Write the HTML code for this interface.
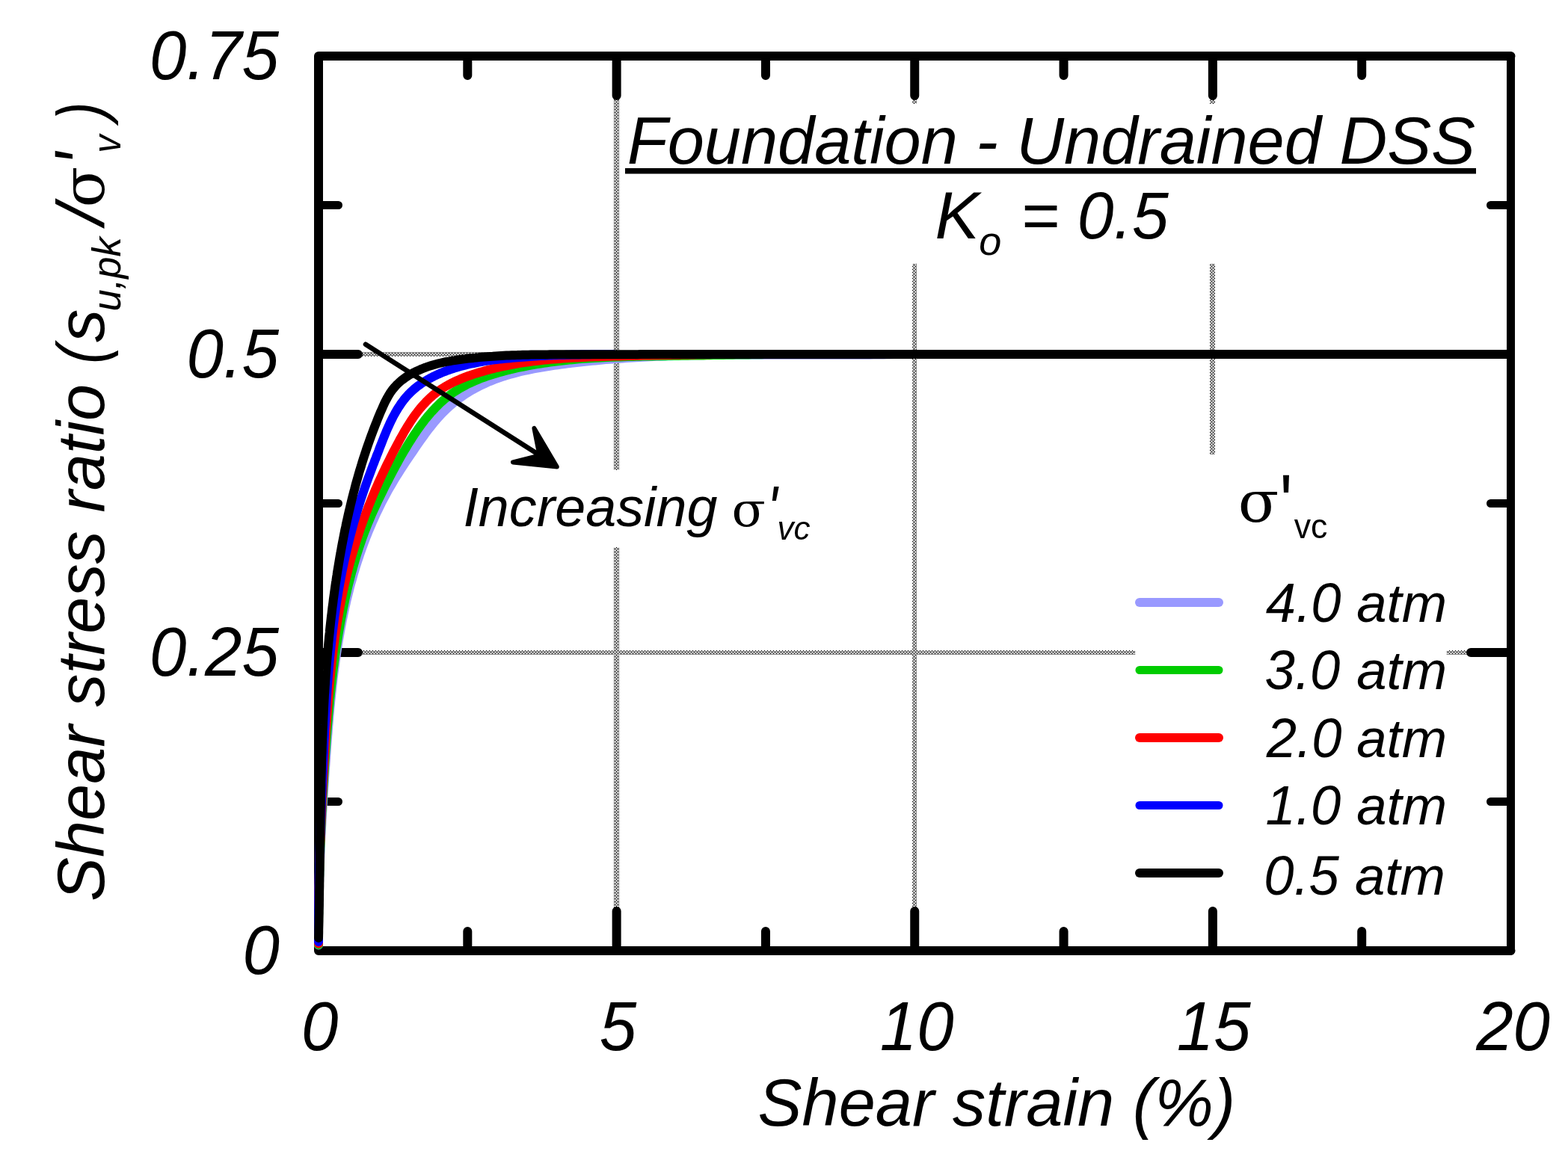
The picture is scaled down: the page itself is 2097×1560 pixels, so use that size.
<!DOCTYPE html>
<html lang="en"><head><meta charset="utf-8"><title>Foundation - Undrained DSS</title>
<style>
html,body{margin:0;padding:0;background:#fff;}
body{width:2097px;height:1560px;}
svg{display:block;}
text{fill:#000;font-kerning:none;white-space:pre;}
.i{font-family:"Liberation Sans", sans-serif;font-style:italic;}
.r{font-family:"Liberation Sans", sans-serif;font-style:normal;}
.g{font-family:"DejaVu Serif", "Liberation Serif", serif;font-style:normal;}
</style></head><body>
<svg width="2097" height="1560" viewBox="0 0 2097 1560" role="img" aria-label="Shear stress ratio versus shear strain">
<defs><pattern id="hatch" width="4" height="4" patternUnits="userSpaceOnUse" shape-rendering="crispEdges"><path d="M0 0h1v1h-1z M1 1h1v1h-1z M3 1h1v1h-1z M2 2h1v1h-1z M1 3h1v1h-1z M3 3h1v1h-1z" fill="#000"/></pattern></defs>
<rect x="0" y="0" width="2097" height="1560" fill="#fff"/>
<g id="grid">
<rect x="821" y="133" width="7" height="496" fill="url(#hatch)" shape-rendering="crispEdges"/>
<rect x="821" y="732" width="7" height="482" fill="url(#hatch)" shape-rendering="crispEdges"/>
<rect x="1220" y="133" width="6" height="6" fill="url(#hatch)" shape-rendering="crispEdges"/>
<rect x="1220" y="353" width="6" height="861" fill="url(#hatch)" shape-rendering="crispEdges"/>
<rect x="1618" y="133" width="7" height="6" fill="url(#hatch)" shape-rendering="crispEdges"/>
<rect x="1618" y="353" width="7" height="255" fill="url(#hatch)" shape-rendering="crispEdges"/>
<rect x="484" y="471" width="1478" height="6" fill="url(#hatch)" shape-rendering="crispEdges"/>
<rect x="484" y="870" width="1034" height="6" fill="url(#hatch)" shape-rendering="crispEdges"/>
<rect x="1935" y="870" width="27" height="6" fill="url(#hatch)" shape-rendering="crispEdges"/>
</g>
<g id="axes" stroke="#000" stroke-width="12" stroke-linecap="round" stroke-linejoin="round" fill="none">
<path d="M2020.5 75 H426 V1272 H2020.5"/>
<path d="M2020.5 75 V1272" stroke-width="11"/>
<path d="M824.625 75 v53 M824.625 1272 v-53"/>
<path d="M1223.25 75 v53 M1223.25 1272 v-53"/>
<path d="M1621.88 75 v53 M1621.88 1272 v-53"/>
<path d="M625.312 75 v26 M625.312 1272 v-26"/>
<path d="M1023.94 75 v26 M1023.94 1272 v-26"/>
<path d="M1422.56 75 v26 M1422.56 1272 v-26"/>
<path d="M1821.19 75 v26 M1821.19 1272 v-26"/>
<path d="M426 873 h53 M2019.5 873 h-52.5"/>
<path d="M426 474 h53 M2019.5 474 h-52.5"/>
<path stroke-width="11" d="M426 1072.5 h26.5 M2019.5 1072.5 h-26"/>
<path stroke-width="11" d="M426 673.5 h26.5 M2019.5 673.5 h-26"/>
<path stroke-width="11" d="M426 274.5 h26.5 M2019.5 274.5 h-26"/>
</g>
<g id="curves" fill="none" stroke-width="12" stroke-linecap="round" stroke-linejoin="round">
<path id="c-purple" stroke="#9999ff" d="M426.0 1264.5 L426.0 1259.9 L426.0 1255.2 L426.0 1250.6 L426.0 1246.0 L426.0 1241.4 L426.0 1236.8 L426.0 1232.2 L426.0 1227.6 L426.1 1222.9 L426.2 1218.3 L426.2 1213.7 L426.3 1209.1 L426.4 1204.6 L426.5 1200.0 L426.6 1195.4 L426.7 1190.8 L426.8 1186.2 L427.0 1181.6 L427.1 1177.0 L427.2 1172.4 L427.4 1167.9 L427.6 1163.3 L427.7 1158.7 L427.9 1154.1 L428.1 1149.6 L428.3 1145.0 L428.5 1140.4 L428.7 1135.8 L428.9 1131.3 L429.1 1126.7 L429.3 1122.1 L429.5 1117.6 L429.8 1113.0 L430.0 1108.4 L430.3 1103.9 L430.5 1099.3 L430.8 1094.7 L431.0 1090.1 L431.3 1085.6 L431.6 1081.0 L431.8 1076.4 L432.1 1071.9 L432.4 1067.3 L432.7 1062.7 L433.0 1058.2 L433.3 1053.6 L433.6 1049.0 L433.9 1044.4 L434.2 1039.9 L434.5 1035.3 L434.8 1030.7 L435.2 1026.1 L435.5 1021.5 L435.8 1017.0 L436.1 1012.4 L436.5 1007.8 L436.8 1003.2 L437.1 998.6 L437.5 994.0 L437.8 989.4 L438.2 984.8 L438.6 980.2 L438.9 975.7 L439.3 971.1 L439.7 966.5 L440.1 961.9 L440.5 957.3 L440.9 952.7 L441.3 948.1 L441.8 943.5 L442.2 938.9 L442.7 934.4 L443.2 929.8 L443.7 925.2 L444.2 920.6 L444.7 916.0 L445.2 911.5 L445.7 906.9 L446.3 902.3 L446.9 897.7 L447.5 893.2 L448.1 888.6 L448.7 884.1 L449.4 879.5 L450.0 875.0 L450.7 870.4 L451.4 865.9 L452.1 861.3 L452.9 856.8 L453.7 852.3 L454.5 847.8 L455.3 843.2 L456.1 838.7 L457.0 834.2 L457.8 829.7 L458.8 825.2 L459.7 820.7 L460.7 816.2 L461.6 811.8 L462.7 807.3 L463.7 802.8 L464.8 798.4 L465.9 793.9 L467.0 789.5 L468.1 785.1 L469.3 780.6 L470.6 776.2 L471.8 771.8 L473.1 767.4 L474.4 763.0 L475.7 758.6 L477.1 754.2 L478.5 749.9 L480.0 745.5 L481.4 741.2 L483.0 736.8 L484.5 732.5 L486.1 728.2 L487.7 723.9 L489.3 719.6 L491.0 715.4 L492.7 711.1 L494.5 706.9 L496.3 702.6 L498.1 698.4 L500.0 694.2 L501.9 690.1 L503.8 685.9 L505.8 681.8 L507.8 677.6 L509.8 673.5 L511.9 669.5 L514.1 665.4 L516.2 661.4 L518.4 657.3 L520.7 653.3 L523.0 649.4 L525.3 645.4 L527.6 641.5 L530.0 637.6 L532.5 633.7 L534.9 629.8 L537.4 625.9 L539.9 622.1 L542.5 618.2 L545.0 614.4 L547.6 610.6 L550.2 606.8 L552.8 603.0 L555.4 599.2 L558.0 595.4 L560.6 591.6 L563.3 587.8 L566.0 584.1 L568.7 580.3 L571.4 576.6 L574.2 573.0 L577.1 569.4 L580.0 565.8 L582.9 562.3 L585.9 558.8 L589.1 555.4 L592.2 552.1 L595.5 548.9 L598.9 545.7 L602.3 542.6 L605.8 539.6 L609.4 536.7 L613.0 533.9 L616.7 531.2 L620.5 528.6 L624.3 526.1 L628.2 523.7 L632.1 521.4 L636.1 519.2 L640.1 517.1 L644.2 515.1 L648.3 513.2 L652.4 511.3 L656.6 509.6 L660.8 507.9 L665.1 506.4 L669.4 504.9 L673.7 503.4 L678.0 502.1 L682.4 500.8 L686.8 499.6 L691.3 498.4 L695.7 497.3 L700.2 496.2 L704.7 495.3 L709.2 494.3 L713.7 493.4 L718.3 492.6 L722.8 491.8 L727.4 491.0 L731.9 490.3 L736.5 489.5 L741.1 488.9 L745.7 488.2 L750.3 487.6 L754.9 487.0 L759.5 486.4 L764.1 485.9 L768.7 485.3 L773.3 484.8 L777.8 484.3 L782.4 483.8 L787.0 483.3 L791.6 482.8 L796.2 482.4 L800.8 482.0 L805.4 481.5 L810.0 481.1 L814.6 480.8 L819.2 480.4 L823.7 480.0 L828.3 479.7 L832.9 479.4 L837.5 479.1 L842.1 478.8 L846.7 478.5 L851.3 478.2 L855.8 478.0 L860.4 477.7 L865.0 477.5 L869.6 477.3 L874.2 477.0 L878.8 476.8 L883.3 476.7 L887.9 476.5 L892.5 476.3 L897.1 476.2 L901.7 476.0 L906.3 475.9 L910.8 475.7 L915.4 475.6 L920.0 475.5 L924.6 475.4 L929.2 475.3 L933.8 475.2 L938.3 475.2 L942.9 475.1 L947.5 475.0 L952.1 475.0 L956.7 474.9 L961.3 474.9 L965.8 474.8 L970.4 474.8 L975.0 474.8 L979.6 474.7 L984.2 474.7 L988.8 474.7 L993.3 474.7 L997.9 474.7 L1002.5 474.7 L1007.1 474.7 L1011.7 474.7 L1016.3 474.7 L1020.8 474.7 L1025.4 474.7 L1030.0 474.7 L1034.6 474.7 L1039.2 474.7 L1043.8 474.7 L1048.4 474.7 L1052.9 474.7 L1057.5 474.7 L1062.1 474.7 L1066.7 474.7 L1071.3 474.7 L1075.9 474.7 L1080.5 474.7 L1085.1 474.7 L1089.7 474.7 L1094.2 474.7 L1098.8 474.7 L1103.4 474.7 L1108.0 474.7 L1112.6 474.7 L1117.2 474.7 L1121.8 474.7 L1126.4 474.7 L1131.0 474.7 L1135.6 474.7 L1140.2 474.7 L1144.8 474.7 L1149.4 474.7 L1154.0 474.7 L1158.6 474.7 L1163.2 474.7 L1167.8 474.6 L1172.4 474.6 L1177.0 474.5 L1181.6 474.4 L1186.2 474.3 L1190.8 474.2 L1195.4 474.1 L1200.0 474.0"/>
<path id="c-green" stroke="#00cc00" d="M426.0 1264.0 L426.0 1259.7 L426.0 1255.3 L426.0 1251.0 L426.0 1246.7 L426.0 1242.4 L426.0 1238.1 L426.0 1233.8 L426.1 1229.5 L426.1 1225.2 L426.2 1220.9 L426.2 1216.6 L426.3 1212.3 L426.3 1208.0 L426.4 1203.7 L426.5 1199.4 L426.6 1195.1 L426.6 1190.8 L426.7 1186.5 L426.8 1182.2 L426.9 1177.9 L427.1 1173.6 L427.2 1169.4 L427.3 1165.1 L427.4 1160.8 L427.6 1156.5 L427.7 1152.2 L427.9 1148.0 L428.0 1143.7 L428.2 1139.4 L428.3 1135.1 L428.5 1130.9 L428.7 1126.6 L428.8 1122.3 L429.0 1118.1 L429.2 1113.8 L429.4 1109.5 L429.6 1105.2 L429.8 1101.0 L430.0 1096.7 L430.2 1092.4 L430.4 1088.2 L430.7 1083.9 L430.9 1079.6 L431.1 1075.3 L431.4 1071.1 L431.6 1066.8 L431.8 1062.5 L432.1 1058.2 L432.3 1054.0 L432.6 1049.7 L432.9 1045.4 L433.1 1041.1 L433.4 1036.9 L433.7 1032.6 L433.9 1028.3 L434.2 1024.0 L434.5 1019.7 L434.8 1015.4 L435.1 1011.2 L435.4 1006.9 L435.7 1002.6 L436.0 998.3 L436.3 994.0 L436.6 989.7 L436.9 985.4 L437.3 981.1 L437.6 976.8 L437.9 972.5 L438.3 968.3 L438.7 964.0 L439.0 959.7 L439.4 955.4 L439.8 951.1 L440.2 946.8 L440.6 942.5 L441.0 938.2 L441.4 933.9 L441.8 929.6 L442.3 925.4 L442.7 921.1 L443.2 916.8 L443.7 912.5 L444.2 908.2 L444.7 904.0 L445.2 899.7 L445.7 895.4 L446.3 891.1 L446.8 886.9 L447.4 882.6 L448.0 878.4 L448.6 874.1 L449.2 869.8 L449.8 865.6 L450.5 861.3 L451.1 857.1 L451.8 852.8 L452.5 848.6 L453.2 844.4 L454.0 840.1 L454.7 835.9 L455.5 831.7 L456.3 827.5 L457.1 823.3 L457.9 819.1 L458.7 814.9 L459.6 810.7 L460.5 806.5 L461.4 802.3 L462.3 798.1 L463.3 793.9 L464.2 789.7 L465.2 785.6 L466.2 781.4 L467.3 777.3 L468.3 773.1 L469.4 769.0 L470.5 764.8 L471.7 760.7 L472.8 756.6 L474.0 752.5 L475.2 748.4 L476.4 744.3 L477.7 740.2 L479.0 736.1 L480.3 732.1 L481.7 728.0 L483.1 724.0 L484.5 719.9 L486.0 715.9 L487.4 711.9 L489.0 707.9 L490.5 704.0 L492.1 700.0 L493.8 696.1 L495.4 692.2 L497.1 688.2 L498.8 684.3 L500.6 680.4 L502.4 676.6 L504.2 672.7 L506.0 668.8 L507.9 665.0 L509.8 661.1 L511.7 657.3 L513.6 653.4 L515.5 649.6 L517.5 645.7 L519.5 641.9 L521.4 638.1 L523.4 634.2 L525.4 630.4 L527.5 626.6 L529.5 622.8 L531.6 619.0 L533.7 615.2 L535.8 611.4 L538.0 607.6 L540.2 603.8 L542.4 600.1 L544.6 596.4 L546.9 592.7 L549.2 589.0 L551.6 585.3 L553.9 581.7 L556.4 578.1 L558.8 574.5 L561.3 571.0 L563.9 567.5 L566.5 564.1 L569.1 560.7 L571.8 557.4 L574.6 554.1 L577.4 550.9 L580.3 547.8 L583.2 544.7 L586.2 541.7 L589.2 538.8 L592.4 536.0 L595.5 533.3 L598.8 530.7 L602.1 528.1 L605.5 525.7 L609.0 523.3 L612.6 521.1 L616.2 518.9 L619.9 516.9 L623.6 514.9 L627.4 513.0 L631.3 511.2 L635.2 509.5 L639.1 507.9 L643.1 506.3 L647.1 504.8 L651.2 503.3 L655.3 502.0 L659.4 500.7 L663.6 499.4 L667.7 498.2 L671.9 497.1 L676.1 496.0 L680.4 494.9 L684.6 493.9 L688.8 492.9 L693.0 492.0 L697.3 491.1 L701.5 490.3 L705.8 489.4 L710.0 488.6 L714.3 487.9 L718.5 487.2 L722.8 486.5 L727.0 485.8 L731.3 485.2 L735.5 484.6 L739.8 484.0 L744.1 483.5 L748.3 483.0 L752.6 482.5 L756.9 482.0 L761.1 481.6 L765.4 481.2 L769.7 480.8 L774.0 480.4 L778.2 480.1 L782.5 479.8 L786.8 479.5 L791.1 479.2 L795.4 478.9 L799.7 478.7 L803.9 478.4 L808.2 478.2 L812.5 478.0 L816.8 477.8 L821.1 477.7 L825.4 477.5 L829.7 477.4 L834.0 477.2 L838.3 477.1 L842.6 477.0 L846.9 476.9 L851.1 476.8 L855.4 476.7 L859.7 476.6 L864.0 476.5 L868.3 476.5 L872.6 476.4 L876.9 476.3 L881.2 476.3 L885.5 476.2 L889.8 476.2 L894.1 476.1 L898.4 476.0 L902.7 476.0 L906.9 475.9 L911.2 475.8 L915.5 475.8 L919.8 475.7 L924.1 475.6 L928.4 475.6 L932.7 475.5 L937.0 475.4 L941.2 475.4 L945.5 475.3 L949.8 475.2 L954.1 475.1 L958.4 475.1 L962.7 475.0 L967.0 474.9 L971.2 474.8 L975.5 474.8 L979.8 474.7 L984.1 474.6 L988.4 474.6 L992.7 474.5 L996.9 474.5 L1001.2 474.4 L1005.5 474.3 L1009.8 474.3 L1014.1 474.2 L1018.4 474.2 L1022.7 474.1 L1027.0 474.1 L1031.2 474.1 L1035.5 474.0 L1039.8 474.0 L1044.1 474.0 L1048.4 474.0 L1052.7 474.0 L1057.0 474.0 L1061.3 474.0 L1065.6 474.0 L1069.9 474.0 L1074.2 474.0 L1078.5 474.0 L1082.8 474.0 L1087.1 474.0 L1091.4 474.0 L1095.7 474.0 L1100.0 474.0"/>
<path id="c-red" stroke="#ff0000" d="M426.0 1262.5 L426.0 1258.5 L426.0 1254.4 L426.0 1250.4 L426.0 1246.4 L426.0 1242.4 L426.0 1238.3 L426.0 1234.3 L426.0 1230.3 L426.0 1226.3 L426.0 1222.3 L426.0 1218.3 L426.0 1214.3 L426.1 1210.3 L426.1 1206.3 L426.2 1202.3 L426.3 1198.3 L426.3 1194.3 L426.4 1190.3 L426.5 1186.3 L426.6 1182.3 L426.7 1178.3 L426.8 1174.3 L426.9 1170.3 L427.0 1166.3 L427.1 1162.3 L427.2 1158.3 L427.3 1154.4 L427.4 1150.4 L427.6 1146.4 L427.7 1142.4 L427.9 1138.4 L428.0 1134.4 L428.1 1130.5 L428.3 1126.5 L428.5 1122.5 L428.6 1118.5 L428.8 1114.5 L428.9 1110.6 L429.1 1106.6 L429.3 1102.6 L429.5 1098.6 L429.6 1094.6 L429.8 1090.6 L430.0 1086.7 L430.2 1082.7 L430.4 1078.7 L430.6 1074.7 L430.8 1070.7 L431.0 1066.8 L431.2 1062.8 L431.4 1058.8 L431.6 1054.8 L431.8 1050.8 L432.0 1046.8 L432.3 1042.8 L432.5 1038.9 L432.7 1034.9 L432.9 1030.9 L433.1 1026.9 L433.4 1022.9 L433.6 1018.9 L433.8 1014.9 L434.0 1010.9 L434.3 1006.9 L434.5 1002.9 L434.7 998.9 L435.0 994.9 L435.2 990.9 L435.4 986.9 L435.7 982.9 L435.9 978.9 L436.2 974.9 L436.5 970.9 L436.7 966.9 L437.0 962.9 L437.3 958.9 L437.6 954.9 L437.9 950.9 L438.2 946.9 L438.5 942.9 L438.8 938.9 L439.1 934.9 L439.4 930.9 L439.8 926.9 L440.1 922.9 L440.4 918.9 L440.8 914.9 L441.2 910.9 L441.6 906.9 L442.0 902.9 L442.4 898.9 L442.8 894.9 L443.2 890.9 L443.6 887.0 L444.1 883.0 L444.6 879.0 L445.0 875.0 L445.5 871.0 L446.0 867.1 L446.5 863.1 L447.1 859.1 L447.6 855.2 L448.2 851.2 L448.7 847.3 L449.3 843.3 L449.9 839.3 L450.6 835.4 L451.2 831.4 L451.9 827.5 L452.5 823.6 L453.2 819.6 L453.9 815.7 L454.6 811.8 L455.4 807.8 L456.1 803.9 L456.9 800.0 L457.7 796.1 L458.5 792.2 L459.4 788.3 L460.2 784.4 L461.1 780.5 L462.0 776.6 L462.9 772.7 L463.9 768.9 L464.8 765.0 L465.8 761.1 L466.8 757.3 L467.8 753.4 L468.9 749.6 L469.9 745.7 L471.0 741.9 L472.2 738.0 L473.3 734.2 L474.4 730.4 L475.6 726.6 L476.8 722.8 L478.0 719.0 L479.3 715.2 L480.5 711.4 L481.8 707.6 L483.1 703.8 L484.4 700.1 L485.8 696.3 L487.1 692.6 L488.5 688.8 L489.9 685.1 L491.4 681.4 L492.8 677.6 L494.3 673.9 L495.8 670.2 L497.3 666.5 L498.8 662.8 L500.3 659.2 L501.9 655.5 L503.5 651.8 L505.1 648.2 L506.7 644.5 L508.4 640.9 L510.1 637.3 L511.7 633.6 L513.5 630.0 L515.2 626.4 L516.9 622.8 L518.7 619.2 L520.5 615.6 L522.3 612.0 L524.1 608.4 L525.9 604.8 L527.8 601.2 L529.7 597.7 L531.6 594.1 L533.5 590.5 L535.4 586.9 L537.4 583.4 L539.4 579.8 L541.4 576.3 L543.5 572.9 L545.6 569.4 L547.8 566.0 L550.0 562.6 L552.2 559.3 L554.5 556.1 L556.9 552.8 L559.3 549.7 L561.8 546.6 L564.3 543.6 L566.9 540.7 L569.6 537.8 L572.4 535.0 L575.2 532.3 L578.1 529.7 L581.1 527.2 L584.2 524.8 L587.3 522.5 L590.6 520.3 L593.9 518.2 L597.3 516.2 L600.7 514.3 L604.3 512.4 L607.8 510.7 L611.5 509.0 L615.2 507.4 L618.9 505.9 L622.6 504.4 L626.4 503.0 L630.3 501.7 L634.1 500.4 L637.9 499.2 L641.8 498.0 L645.7 496.9 L649.6 495.8 L653.4 494.7 L657.3 493.7 L661.2 492.8 L665.1 491.8 L669.0 490.9 L673.0 490.1 L676.9 489.3 L680.8 488.5 L684.7 487.8 L688.7 487.0 L692.6 486.4 L696.6 485.7 L700.5 485.1 L704.5 484.5 L708.4 484.0 L712.4 483.4 L716.3 483.0 L720.3 482.5 L724.3 482.0 L728.3 481.6 L732.2 481.2 L736.2 480.8 L740.2 480.5 L744.2 480.2 L748.2 479.9 L752.2 479.6 L756.2 479.3 L760.2 479.0 L764.2 478.8 L768.2 478.6 L772.2 478.4 L776.2 478.2 L780.2 478.0 L784.2 477.8 L788.2 477.6 L792.2 477.5 L796.2 477.3 L800.2 477.2 L804.2 477.1 L808.2 476.9 L812.2 476.8 L816.2 476.7 L820.2 476.6 L824.2 476.5 L828.2 476.4 L832.2 476.3 L836.2 476.2 L840.1 476.1 L844.1 476.0 L848.1 475.9 L852.1 475.8 L856.1 475.7 L860.1 475.6 L864.1 475.5 L868.1 475.4 L872.1 475.3 L876.1 475.2 L880.0 475.2 L884.0 475.1 L888.0 475.0 L892.0 474.9 L896.0 474.9 L900.0 474.8 L904.0 474.7 L908.0 474.7 L912.0 474.6 L915.9 474.5 L919.9 474.5 L923.9 474.4 L927.9 474.4 L931.9 474.3 L935.9 474.3 L939.9 474.3 L943.9 474.2 L947.9 474.2 L951.9 474.1 L955.9 474.1 L959.9 474.1 L963.9 474.1 L967.9 474.0 L971.9 474.0 L975.9 474.0 L979.9 474.0 L983.9 474.0 L987.9 474.0 L992.0 474.0 L996.0 474.0 L1000.0 474.0"/>
<path id="c-blue" stroke="#0000ff" d="M426.0 1260.0 L426.0 1256.5 L426.0 1253.0 L426.0 1249.5 L426.0 1246.1 L426.0 1242.6 L426.0 1239.1 L426.0 1235.6 L426.0 1232.1 L426.0 1228.7 L426.0 1225.2 L426.0 1221.7 L426.0 1218.2 L426.1 1214.8 L426.1 1211.3 L426.2 1207.8 L426.2 1204.3 L426.2 1200.9 L426.3 1197.4 L426.3 1193.9 L426.4 1190.5 L426.5 1187.0 L426.5 1183.5 L426.6 1180.1 L426.6 1176.6 L426.7 1173.1 L426.8 1169.7 L426.9 1166.2 L427.0 1162.7 L427.0 1159.3 L427.1 1155.8 L427.2 1152.4 L427.3 1148.9 L427.4 1145.4 L427.5 1142.0 L427.6 1138.5 L427.7 1135.0 L427.8 1131.6 L427.9 1128.1 L428.0 1124.7 L428.1 1121.2 L428.3 1117.7 L428.4 1114.3 L428.5 1110.8 L428.6 1107.4 L428.7 1103.9 L428.9 1100.4 L429.0 1097.0 L429.1 1093.5 L429.3 1090.1 L429.4 1086.6 L429.5 1083.1 L429.7 1079.7 L429.8 1076.2 L430.0 1072.8 L430.1 1069.3 L430.2 1065.8 L430.4 1062.4 L430.5 1058.9 L430.7 1055.5 L430.8 1052.0 L431.0 1048.5 L431.1 1045.1 L431.3 1041.6 L431.4 1038.1 L431.6 1034.7 L431.7 1031.2 L431.9 1027.7 L432.1 1024.3 L432.2 1020.8 L432.4 1017.3 L432.5 1013.9 L432.7 1010.4 L432.9 1006.9 L433.0 1003.5 L433.2 1000.0 L433.4 996.5 L433.5 993.1 L433.7 989.6 L433.9 986.1 L434.0 982.7 L434.2 979.2 L434.4 975.7 L434.6 972.2 L434.8 968.8 L435.0 965.3 L435.2 961.8 L435.3 958.4 L435.5 954.9 L435.7 951.4 L436.0 947.9 L436.2 944.5 L436.4 941.0 L436.6 937.5 L436.8 934.1 L437.1 930.6 L437.3 927.1 L437.5 923.7 L437.8 920.2 L438.0 916.7 L438.3 913.3 L438.6 909.8 L438.8 906.3 L439.1 902.9 L439.4 899.4 L439.7 895.9 L440.0 892.5 L440.3 889.0 L440.6 885.6 L440.9 882.1 L441.2 878.6 L441.6 875.2 L441.9 871.7 L442.3 868.3 L442.6 864.8 L443.0 861.4 L443.4 857.9 L443.7 854.5 L444.1 851.0 L444.5 847.6 L444.9 844.1 L445.4 840.7 L445.8 837.2 L446.2 833.8 L446.7 830.4 L447.1 826.9 L447.6 823.5 L448.1 820.1 L448.6 816.6 L449.1 813.2 L449.6 809.8 L450.1 806.3 L450.6 802.9 L451.2 799.5 L451.8 796.1 L452.3 792.6 L452.9 789.2 L453.5 785.8 L454.1 782.4 L454.7 779.0 L455.4 775.6 L456.0 772.2 L456.7 768.8 L457.3 765.4 L458.0 762.0 L458.7 758.6 L459.4 755.2 L460.1 751.8 L460.9 748.4 L461.6 745.0 L462.4 741.6 L463.2 738.3 L464.0 734.9 L464.8 731.5 L465.6 728.1 L466.4 724.8 L467.3 721.4 L468.1 718.1 L469.0 714.7 L469.9 711.4 L470.8 708.0 L471.7 704.7 L472.6 701.3 L473.5 698.0 L474.5 694.7 L475.5 691.3 L476.4 688.0 L477.4 684.7 L478.4 681.4 L479.5 678.1 L480.5 674.8 L481.5 671.5 L482.6 668.2 L483.7 664.9 L484.8 661.6 L485.9 658.4 L487.0 655.1 L488.1 651.8 L489.3 648.6 L490.4 645.3 L491.6 642.1 L492.8 638.8 L494.0 635.6 L495.2 632.4 L496.4 629.1 L497.6 625.9 L498.8 622.6 L500.1 619.4 L501.3 616.1 L502.6 612.9 L503.8 609.6 L505.1 606.4 L506.4 603.1 L507.6 599.8 L508.9 596.5 L510.2 593.2 L511.5 589.9 L512.8 586.6 L514.1 583.3 L515.5 580.0 L516.8 576.8 L518.2 573.5 L519.7 570.3 L521.1 567.1 L522.6 563.9 L524.2 560.7 L525.7 557.6 L527.4 554.6 L529.1 551.5 L530.8 548.6 L532.6 545.6 L534.5 542.8 L536.4 539.9 L538.4 537.2 L540.4 534.5 L542.6 531.9 L544.8 529.4 L547.1 526.9 L549.5 524.5 L552.0 522.3 L554.5 520.0 L557.1 517.9 L559.8 515.8 L562.6 513.8 L565.4 511.9 L568.3 510.1 L571.2 508.3 L574.2 506.6 L577.2 505.0 L580.3 503.4 L583.5 501.9 L586.6 500.4 L589.8 499.0 L593.0 497.7 L596.3 496.5 L599.6 495.2 L602.9 494.1 L606.2 493.0 L609.5 491.9 L612.9 490.9 L616.3 490.0 L619.6 489.1 L623.0 488.3 L626.4 487.4 L629.8 486.7 L633.3 486.0 L636.7 485.3 L640.1 484.6 L643.6 484.0 L647.0 483.4 L650.5 482.9 L653.9 482.4 L657.4 481.9 L660.9 481.4 L664.3 481.0 L667.8 480.6 L671.3 480.2 L674.8 479.8 L678.2 479.5 L681.7 479.2 L685.2 478.8 L688.6 478.5 L692.1 478.2 L695.6 478.0 L699.0 477.7 L702.4 477.4 L705.9 477.2 L709.3 477.0 L712.8 476.7 L716.2 476.5 L719.6 476.3 L723.1 476.1 L726.5 476.0 L730.0 475.8 L733.4 475.6 L736.8 475.5 L740.2 475.3 L743.7 475.2 L747.1 475.1 L750.6 475.0 L754.0 474.9 L757.4 474.8 L760.9 474.7 L764.3 474.6 L767.8 474.5 L771.2 474.4 L774.7 474.4 L778.1 474.3 L781.6 474.2 L785.0 474.2 L788.5 474.2 L792.0 474.1 L795.5 474.1 L799.0 474.1 L802.4 474.0 L805.9 474.0 L809.4 474.0 L813.0 474.0 L816.5 474.0 L820.0 474.0"/>
<path id="c-black" stroke="#000000" d="M426.0 1255.0 L426.1 1251.4 L426.2 1247.7 L426.2 1244.1 L426.3 1240.4 L426.4 1236.8 L426.5 1233.1 L426.5 1229.5 L426.6 1225.8 L426.7 1222.2 L426.7 1218.5 L426.8 1214.9 L426.9 1211.2 L426.9 1207.6 L427.0 1203.9 L427.0 1200.3 L427.1 1196.6 L427.1 1193.0 L427.2 1189.3 L427.3 1185.7 L427.3 1182.0 L427.4 1178.4 L427.4 1174.7 L427.5 1171.0 L427.5 1167.4 L427.6 1163.7 L427.6 1160.1 L427.6 1156.4 L427.7 1152.8 L427.7 1149.1 L427.8 1145.4 L427.8 1141.8 L427.9 1138.1 L427.9 1134.5 L428.0 1130.8 L428.0 1127.1 L428.1 1123.5 L428.1 1119.8 L428.2 1116.2 L428.2 1112.5 L428.3 1108.8 L428.3 1105.2 L428.4 1101.5 L428.5 1097.8 L428.5 1094.2 L428.6 1090.5 L428.6 1086.9 L428.7 1083.2 L428.8 1079.5 L428.8 1075.9 L428.9 1072.2 L429.0 1068.6 L429.0 1064.9 L429.1 1061.2 L429.2 1057.6 L429.3 1053.9 L429.4 1050.2 L429.4 1046.6 L429.5 1042.9 L429.6 1039.3 L429.7 1035.6 L429.8 1031.9 L429.9 1028.3 L430.0 1024.6 L430.1 1021.0 L430.2 1017.3 L430.3 1013.6 L430.4 1010.0 L430.6 1006.3 L430.7 1002.7 L430.8 999.0 L430.9 995.3 L431.1 991.7 L431.2 988.0 L431.4 984.4 L431.5 980.7 L431.6 977.0 L431.8 973.4 L432.0 969.7 L432.1 966.1 L432.3 962.4 L432.5 958.8 L432.7 955.1 L432.8 951.5 L433.0 947.8 L433.2 944.2 L433.4 940.5 L433.6 936.8 L433.8 933.2 L434.0 929.5 L434.3 925.9 L434.5 922.2 L434.7 918.6 L435.0 914.9 L435.2 911.3 L435.5 907.7 L435.7 904.0 L436.0 900.4 L436.3 896.7 L436.5 893.1 L436.8 889.4 L437.1 885.8 L437.4 882.1 L437.7 878.5 L438.0 874.9 L438.3 871.2 L438.7 867.6 L439.0 863.9 L439.3 860.3 L439.7 856.7 L440.0 853.0 L440.4 849.4 L440.8 845.8 L441.1 842.1 L441.5 838.5 L441.9 834.9 L442.3 831.2 L442.7 827.6 L443.1 824.0 L443.6 820.4 L444.0 816.7 L444.4 813.1 L444.9 809.5 L445.4 805.9 L445.8 802.2 L446.3 798.6 L446.8 795.0 L447.3 791.4 L447.8 787.8 L448.3 784.2 L448.8 780.5 L449.4 776.9 L449.9 773.3 L450.5 769.7 L451.0 766.1 L451.6 762.5 L452.2 758.9 L452.8 755.3 L453.4 751.7 L454.0 748.1 L454.6 744.5 L455.3 740.9 L455.9 737.3 L456.6 733.7 L457.2 730.1 L457.9 726.5 L458.6 722.9 L459.3 719.3 L460.0 715.7 L460.7 712.1 L461.4 708.5 L462.2 705.0 L462.9 701.4 L463.7 697.8 L464.5 694.2 L465.3 690.7 L466.1 687.1 L466.9 683.5 L467.8 680.0 L468.6 676.4 L469.5 672.8 L470.3 669.3 L471.2 665.7 L472.1 662.2 L473.0 658.6 L474.0 655.1 L474.9 651.6 L475.8 648.0 L476.8 644.5 L477.8 641.0 L478.8 637.5 L479.8 633.9 L480.8 630.4 L481.9 626.9 L483.0 623.4 L484.0 619.9 L485.1 616.4 L486.2 612.9 L487.3 609.5 L488.5 606.0 L489.6 602.5 L490.8 599.0 L492.0 595.6 L493.2 592.1 L494.4 588.7 L495.7 585.2 L496.9 581.8 L498.2 578.4 L499.5 574.9 L500.8 571.5 L502.1 568.1 L503.5 564.7 L504.8 561.3 L506.2 557.9 L507.6 554.5 L509.0 551.2 L510.5 547.8 L512.0 544.4 L513.5 541.1 L515.0 537.8 L516.7 534.6 L518.4 531.4 L520.2 528.3 L522.1 525.2 L524.2 522.3 L526.4 519.5 L528.7 516.8 L531.2 514.2 L533.8 511.7 L536.6 509.3 L539.5 507.1 L542.5 504.9 L545.6 502.9 L548.7 501.0 L552.0 499.2 L555.3 497.5 L558.7 495.9 L562.1 494.4 L565.5 493.0 L569.0 491.6 L572.5 490.4 L576.0 489.3 L579.5 488.2 L583.0 487.2 L586.6 486.3 L590.1 485.5 L593.7 484.7 L597.3 483.9 L600.9 483.3 L604.5 482.6 L608.1 482.1 L611.7 481.5 L615.3 481.0 L618.9 480.5 L622.6 480.1 L626.2 479.6 L629.8 479.2 L633.5 478.9 L637.1 478.5 L640.7 478.1 L644.4 477.8 L648.0 477.5 L651.6 477.2 L655.3 476.9 L658.9 476.7 L662.6 476.4 L666.2 476.2 L669.9 476.0 L673.5 475.8 L677.2 475.6 L680.8 475.5 L684.5 475.3 L688.1 475.2 L691.8 475.1 L695.4 474.9 L699.1 474.8 L702.7 474.8 L706.4 474.7 L710.0 474.6 L713.7 474.5 L717.3 474.5 L721.0 474.4 L724.7 474.4 L728.3 474.4 L732.0 474.4 L735.6 474.3 L739.3 474.3 L743.0 474.3 L746.6 474.3 L750.3 474.3 L753.9 474.3 L757.6 474.3 L761.3 474.3 L764.9 474.3 L768.6 474.3 L772.3 474.3 L775.9 474.3 L779.6 474.3 L783.2 474.3 L786.9 474.3 L790.6 474.3 L794.2 474.3 L797.9 474.3 L801.5 474.3 L805.2 474.3 L808.9 474.3 L812.5 474.3 L816.2 474.3 L819.8 474.3 L823.5 474.3 L827.1 474.3 L830.8 474.3 L834.4 474.3 L838.1 474.3 L841.8 474.3 L845.4 474.3 L849.1 474.3 L852.7 474.2 L856.4 474.1 L860.0 474.0 L2016.0 474.0"/>
</g>
<g id="arrow" stroke="#000" stroke-linecap="round" stroke-linejoin="round">
<path d="M489 460.8 L724 610.5" stroke-width="6.6" fill="none"/>
<path d="M744.8 624.4 L714.4 572.9 L721.5 609.3 L686 618.5 Z" stroke-width="6" fill="#000"/>
</g>
<g id="ticklabels">
<text class="i" font-size="88.9" transform="translate(199.96 105.60) scale(1.0000 1.0350)">0.75</text>
<text class="i" font-size="88.9" transform="translate(249.40 504.60) scale(1.0000 1.0350)">0.5</text>
<text class="i" font-size="88.9" transform="translate(199.96 903.60) scale(1.0000 1.0350)">0.25</text>
<text class="i" font-size="88.9" transform="translate(324.50 1302.60) scale(1.0000 1.0350)">0</text>
<text class="i" font-size="88.9" transform="translate(403.12 1405.20) scale(1.0000 1.0350)">0</text>
<text class="i" font-size="88.9" transform="translate(801.77 1405.20) scale(1.0000 1.0350)">5</text>
<text class="i" font-size="88.9" transform="translate(1176.78 1405.20) scale(1.0000 1.0350)">10</text>
<text class="i" font-size="88.9" transform="translate(1573.80 1405.20) scale(1.0000 1.0350)">15</text>
<text class="i" font-size="88.9" transform="translate(1974.19 1405.20) scale(1.0000 1.0350)">20</text>
</g>
<text id="xlabel" class="i" font-size="88.9" transform="translate(1013.50 1506.00) scale(0.9946 1.0000)">Shear strain (%)</text>
<g id="ylabel">
<text class="i" font-size="88.9" transform="translate(139.30 1206.00) rotate(-90) scale(0.9935 1.0000)">Shear stress ratio</text>
<text class="i" font-size="88.9" transform="translate(139.30 486.87) rotate(-90) scale(0.8559 1.0000)">(</text>
<text class="i" font-size="88.9" transform="translate(139.30 458.12) rotate(-90)">s</text>
<text class="i" font-size="54" transform="translate(161.10 416.61) rotate(-90) scale(0.9739 1.0000)">u,pk</text>
<text class="i" font-size="88.9" transform="translate(139.30 300.40) rotate(-90) scale(1.0917 1.0000)">/</text>
<text class="g" font-size="78" transform="translate(139.30 277.50) rotate(-90) scale(1.0300 1.0000)">σ</text>
<text class="i" font-size="88.9" transform="translate(147.60 221.17) rotate(-90) scale(1.0000 1.2000)">'</text>
<text class="i" font-size="54" transform="translate(161.10 204.62) rotate(-90) scale(0.8862 1.0000)">v</text>
<text class="i" font-size="88.9" transform="translate(139.30 161.26) rotate(-90) scale(0.8377 1.0000)">)</text>
</g>
<g id="title">
<text class="i" font-size="88.9" transform="translate(838.78 219.30) scale(0.9937 1.0000)">Foundation - Undrained DSS</text>
<rect x="836" y="225" width="1138" height="7.5" fill="#000"/>
<text class="i" font-size="88.9" transform="translate(1250.47 318.80)">K</text>
<text class="i" font-size="54" transform="translate(1309.23 340.80)">o</text>
<text class="i" font-size="88.9" transform="translate(1365.23 318.80) scale(0.9868 1.0000)">= 0.5</text>
</g>
<g id="incr">
<text class="i" font-size="73.7" transform="translate(619.38 703.80) scale(1.0001 1.0000)">Increasing</text>
<text class="g" font-size="62.9" transform="translate(978.59 703.80) scale(1.0550 1.0000)">σ</text>
<text class="i" font-size="73.7" transform="translate(1025.43 711.10) scale(1.0000 1.1870)">'</text>
<text class="i" font-size="44" transform="translate(1039.49 721.60)">vc</text>
</g>
<g id="legend">
<text class="g" font-size="76.7" transform="translate(1655.82 697.80) scale(1.0430 1.0000)">σ</text>
<text class="r" font-size="88.9" transform="translate(1711.49 710.30) scale(1.0000 1.2000)">'</text>
<text class="r" font-size="47" transform="translate(1730.65 719.80) scale(0.9518 1.0000)">vc</text>
<path d="M1524 806 H1630" stroke="#9999ff" stroke-width="12" stroke-linecap="round" fill="none"/>
<text class="i" font-size="72.5" transform="translate(1692.84 831.80) scale(1.0000 1.0350)">4.0</text>
<text class="i" font-size="72.5" transform="translate(1814.21 831.80)">atm</text>
<path d="M1524 896.5 H1630" stroke="#00cc00" stroke-width="11" stroke-linecap="round" fill="none"/>
<text class="i" font-size="72.5" transform="translate(1691.60 922.00) scale(1.0000 1.0350)">3.0</text>
<text class="i" font-size="72.5" transform="translate(1814.21 922.00)">atm</text>
<path d="M1524 987 H1630" stroke="#ff0000" stroke-width="12" stroke-linecap="round" fill="none"/>
<text class="i" font-size="72.5" transform="translate(1693.72 1013.00) scale(1.0000 1.0350)">2.0</text>
<text class="i" font-size="72.5" transform="translate(1814.21 1013.00)">atm</text>
<path d="M1524 1077.5 H1630" stroke="#0000ff" stroke-width="11" stroke-linecap="round" fill="none"/>
<text class="i" font-size="72.5" transform="translate(1692.62 1102.60) scale(1.0000 1.0350)">1.0</text>
<text class="i" font-size="72.5" transform="translate(1814.21 1102.60)">atm</text>
<path d="M1524 1168 H1630" stroke="#000000" stroke-width="12" stroke-linecap="round" fill="none"/>
<text class="i" font-size="72.5" transform="translate(1690.15 1196.80) scale(1.0000 1.0350)">0.5</text>
<text class="i" font-size="72.5" transform="translate(1812.01 1196.80)">atm</text>
</g>
</svg></body></html>
